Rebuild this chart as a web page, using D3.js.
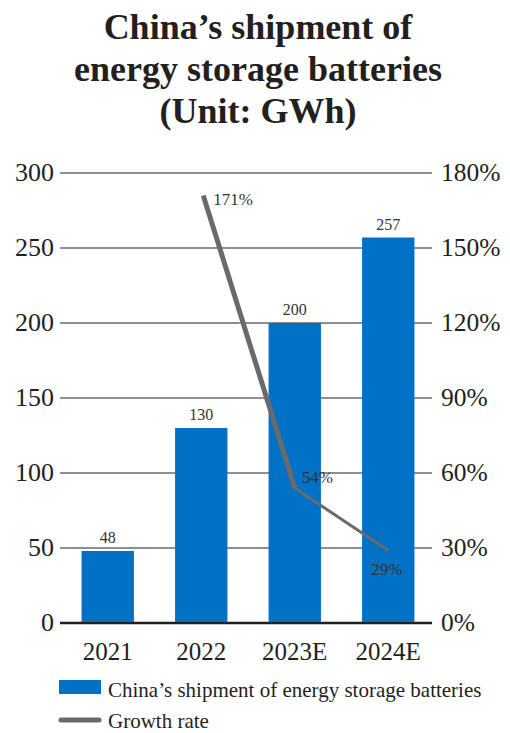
<!DOCTYPE html>
<html><head><meta charset="utf-8">
<script src="https://cdn.jsdelivr.net/npm/d3@7"></script>
<style>body{margin:0;background:#fff}svg{display:block}</style>
</head><body>
<script>
const categories = ["2021","2022","2023E","2024E"];
const shipments = [48,130,200,257];
const growth = [null,171,54,29];
const growthLabels = ["", "171%","54%","29%"];
const leftTicks = [0,50,100,150,200,250,300];
const rightTicks = [0,30,60,90,120,150,180];
const titleLines = ["China\u2019s shipment of","energy storage batteries","(Unit: GWh)"];

const W=510,H=733;
const svg=d3.select("body").append("svg").attr("width",W).attr("height",H);
const blue="#0071C5", gray="#6a6a6b", ink="#231f20";

svg.append("g").selectAll("text").data(titleLines).join("text")
  .attr("x",258).attr("y",(d,i)=>39+i*42).attr("text-anchor","middle")
  .style("font-weight","bold").style("font-size","36px").attr("fill",ink).text(d=>d);

const y=d3.scaleLinear().domain([0,300]).range([623,173]);
const y2=d3.scaleLinear().domain([0,180]).range([623,173]);
const x=d3.scaleBand().domain(categories).range([61,435]).paddingInner(0.44).paddingOuter(0.22);

svg.append("g").selectAll("line").data(leftTicks).join("line")
  .attr("x1",60).attr("x2",432).attr("y1",d=>y(d)).attr("y2",d=>y(d))
  .attr("stroke",ink).attr("stroke-width",d=>d===0?2.5:1.2);

svg.append("g").selectAll("text").data(leftTicks).join("text")
  .attr("x",54).attr("y",d=>y(d)+8).attr("text-anchor","end")
  .style("font-size","26px").attr("fill",ink).text(d=>d);
svg.append("g").selectAll("text").data(rightTicks).join("text")
  .attr("x",441).attr("y",d=>y2(d)+8).attr("text-anchor","start")
  .style("font-size","25.5px").attr("fill",ink).text(d=>d+"%");

svg.append("g").selectAll("rect").data(shipments).join("rect")
  .attr("x",(d,i)=>x(categories[i])).attr("width",x.bandwidth())
  .attr("y",d=>y(d)).attr("height",d=>y(0)-1-y(d)).attr("fill",blue);

svg.append("g").selectAll("text").data(shipments).join("text")
  .attr("x",(d,i)=>x(categories[i])+x.bandwidth()/2).attr("y",d=>y(d)-8)
  .attr("text-anchor","middle").style("font-size","16px").attr("fill","#333").text(d=>d);

svg.append("g").selectAll("text").data(categories).join("text")
  .attr("x",d=>x(d)+x.bandwidth()/2).attr("y",660).attr("text-anchor","middle")
  .style("font-size","25px").attr("fill",ink).text(d=>d);

const pts=growth.map((g,i)=>g==null?null:[x(categories[i])+x.bandwidth()/2+(i===1?2:0),y2(g)]).filter(Boolean);
const widths=[5,3];
for(let i=0;i<pts.length-1;i++){
  svg.append("path").attr("d",d3.line()([pts[i],pts[i+1]]))
    .attr("stroke",gray).attr("stroke-width",widths[i]).attr("fill","none").attr("stroke-linecap","butt");
}
const gOff=[null,[10,9],[7,-5],[-17,24]];
growth.forEach((g,i)=>{
  if(g==null) return;
  const cx=x(categories[i])+x.bandwidth()/2+(i===1?2:0);
  svg.append("text").attr("x",cx+gOff[i][0]).attr("y",y2(g)+gOff[i][1])
    .style("font-size","17px").attr("fill","#333").text(growthLabels[i]);
});

svg.append("rect").attr("x",59).attr("y",680).attr("width",42).attr("height",14).attr("fill",blue);
svg.append("text").attr("x",108).attr("y",697).style("font-size","21px").attr("fill",ink)
  .text("China\u2019s shipment of energy storage batteries");
svg.append("line").attr("x1",61).attr("x2",99).attr("y1",720).attr("y2",720)
  .attr("stroke",gray).attr("stroke-width",5).attr("stroke-linecap","round");
svg.append("text").attr("x",108).attr("y",728).style("font-size","21px").attr("fill",ink)
  .text("Growth rate");

svg.selectAll("text").style("font-family","Liberation Serif");
</script>
</body></html>
